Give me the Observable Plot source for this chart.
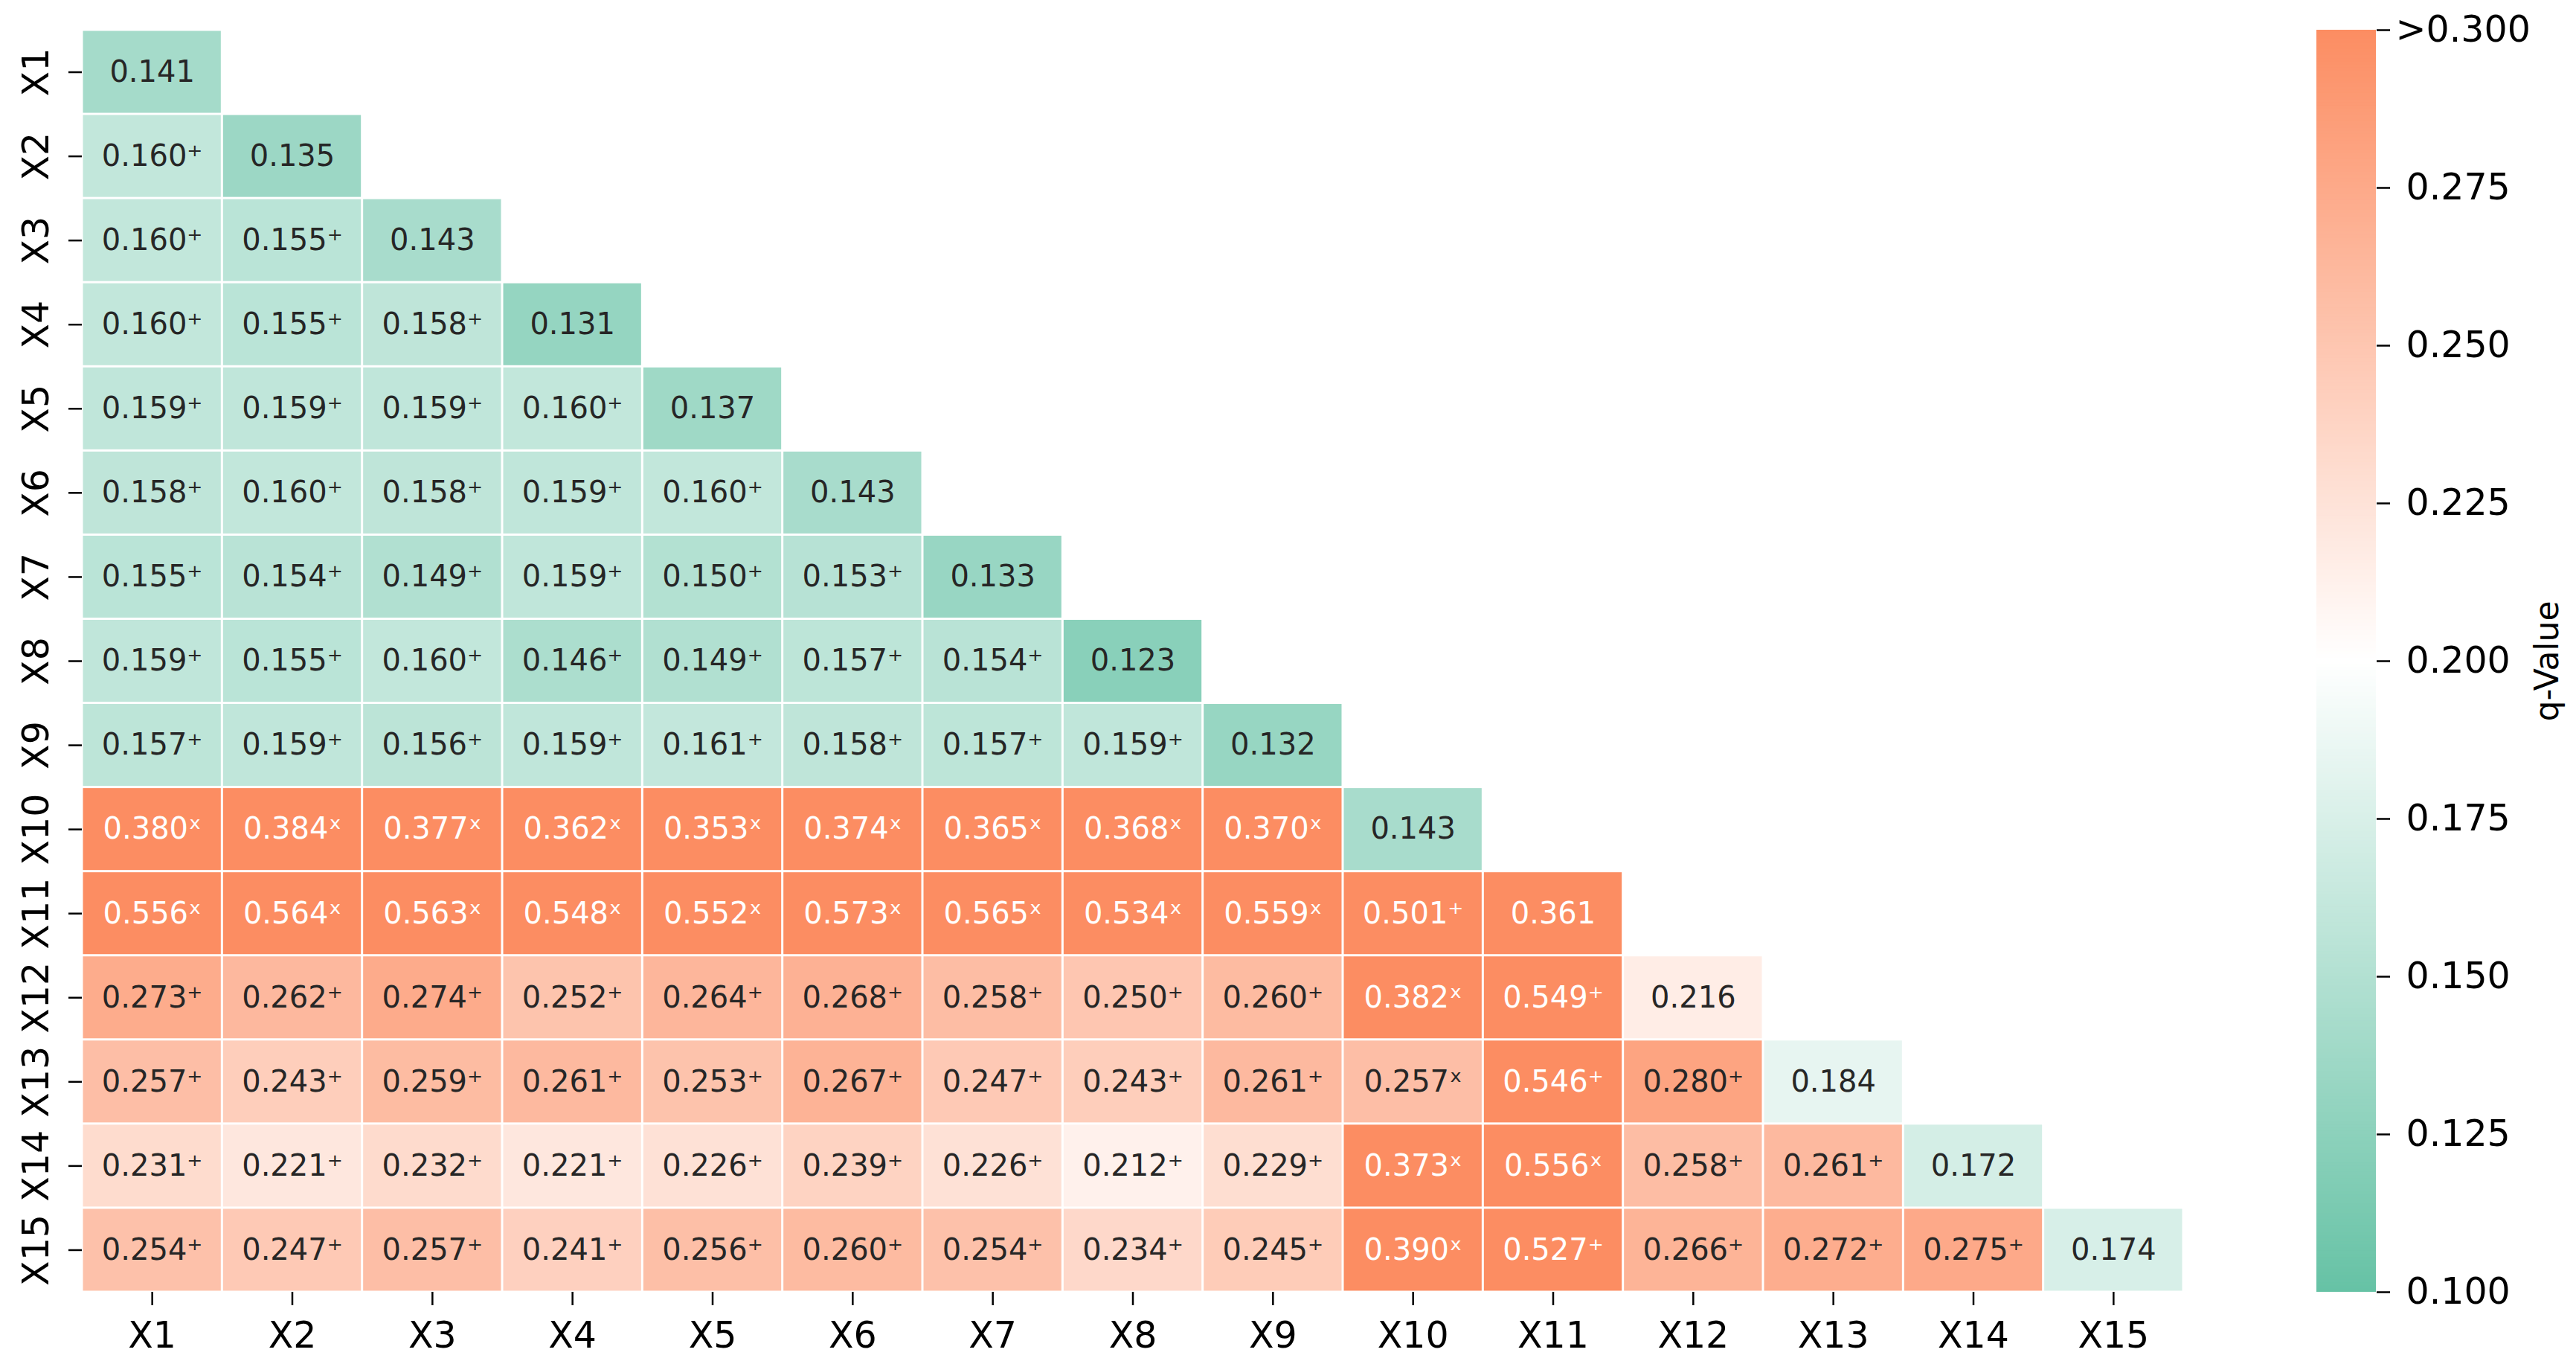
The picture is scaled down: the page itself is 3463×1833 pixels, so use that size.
<!DOCTYPE html>
<html>
<head>
<meta charset="utf-8">
<script src="https://cdn.jsdelivr.net/npm/d3@7"></script>
<script src="https://cdn.jsdelivr.net/npm/@observablehq/plot@0.6"></script>
<style>
  html, body { margin: 0; padding: 0; background: #ffffff; }
  #chart { position: relative; width: 3463px; height: 1833px; font-family: "DejaVu Sans", sans-serif; }
  #main { position: absolute; left: 0; top: 0; }
  #bar { position: absolute; left: 3000px; top: 0; }
</style>
</head>
<body>
<div id="chart"><div id="main"></div><div id="bar"></div></div>
<script>
// Variables (rows and columns)
const variables = ["X1","X2","X3","X4","X5","X6","X7","X8","X9","X10","X11","X12","X13","X14","X15"];

// Lower-triangular q-values, row by row (column X1 .. diagonal)
const qValues = [
  [0.141],
  [0.160, 0.135],
  [0.160, 0.155, 0.143],
  [0.160, 0.155, 0.158, 0.131],
  [0.159, 0.159, 0.159, 0.160, 0.137],
  [0.158, 0.160, 0.158, 0.159, 0.160, 0.143],
  [0.155, 0.154, 0.149, 0.159, 0.150, 0.153, 0.133],
  [0.159, 0.155, 0.160, 0.146, 0.149, 0.157, 0.154, 0.123],
  [0.157, 0.159, 0.156, 0.159, 0.161, 0.158, 0.157, 0.159, 0.132],
  [0.380, 0.384, 0.377, 0.362, 0.353, 0.374, 0.365, 0.368, 0.370, 0.143],
  [0.556, 0.564, 0.563, 0.548, 0.552, 0.573, 0.565, 0.534, 0.559, 0.501, 0.361],
  [0.273, 0.262, 0.274, 0.252, 0.264, 0.268, 0.258, 0.250, 0.260, 0.382, 0.549, 0.216],
  [0.257, 0.243, 0.259, 0.261, 0.253, 0.267, 0.247, 0.243, 0.261, 0.257, 0.546, 0.280, 0.184],
  [0.231, 0.221, 0.232, 0.221, 0.226, 0.239, 0.226, 0.212, 0.229, 0.373, 0.556, 0.258, 0.261, 0.172],
  [0.254, 0.247, 0.257, 0.241, 0.256, 0.260, 0.254, 0.234, 0.245, 0.390, 0.527, 0.266, 0.272, 0.275, 0.174]
];

// Interaction-type markers for off-diagonal cells, row by row ("+" or "x")
const markers = [
  "",
  "+",
  "++",
  "+++",
  "++++",
  "+++++",
  "++++++",
  "+++++++",
  "++++++++",
  "xxxxxxxxx",
  "xxxxxxxxx+",
  "+++++++++x+",
  "+++++++++x++",
  "+++++++++xx++",
  "+++++++++x++++"
];

// Colour bar ticks and labels
const cbTicks = [0.100, 0.125, 0.150, 0.175, 0.200, 0.225, 0.250, 0.275];
const cbLabels = ["0.100", "0.125", "0.150", "0.175", "0.200", "0.225", "0.250", "0.275"];
const cbTopTick = [0.300];
const cbTopLabel = ">0.300";
const legendTitle = "q-Value";

const supers = {"+": "\u207A", "x": "\u02E3"};

const cells = [];
qValues.forEach((row, i) => {
  row.forEach((q, j) => {
    const m = markers[i][j] || "";
    cells.push({
      row: variables[i],
      col: variables[j],
      q,
      label: q.toFixed(3) + (m ? supers[m] : "")
    });
  });
});

const colorScale = {
  type: "linear",
  domain: [0.1, 0.2, 0.3],
  range: ["#66c2a5", "#ffffff", "#fc8d62"],
  clamp: true,
  interpolate: "rgb"
};

const main = Plot.plot({
  width: 3000,
  height: 1833,
  marginLeft: 110,
  marginRight: 65,
  marginTop: 40,
  marginBottom: 97,
  style: { fontFamily: "DejaVu Sans", background: "#ffffff", color: "#000000" },
  x: { domain: variables, padding: 0, round: false, label: null },
  y: { domain: variables, padding: 0, round: false, label: null },
  color: colorScale,
  marks: [
    Plot.cell(cells, { x: "col", y: "row", fill: "q", inset: 1.5 }),
    Plot.text(cells, {
      x: "col", y: "row", text: "label",
      fontSize: 40,
      fill: d => d.q > 0.3 ? "#ffffff" : "#262626"
    }),
    Plot.axisX({ anchor: "bottom", label: null, tickSize: 18, tickPadding: 22, fontSize: 49, strokeWidth: 2.5, fill: "#000" }),
    // y tick marks
    Plot.axisY({ anchor: "left", label: null, tickSize: 18, tickFormat: () => "", strokeWidth: 2.5 }),
    // y tick labels, rotated
    Plot.axisY({ anchor: "left", label: null, tickSize: 0, tickPadding: 46, fontSize: 49,
                 tickRotate: -90, textAnchor: "middle", lineAnchor: "bottom", fill: "#000" })
  ]
});
document.getElementById("main").appendChild(main);

// Colour bar
const steps = d3.range(0.1, 0.3, 0.0005);
const bar = Plot.plot({
  width: 463,
  height: 1833,
  marginLeft: 114,
  marginRight: 269,
  marginTop: 40,
  marginBottom: 97,
  style: { fontFamily: "DejaVu Sans", background: "#ffffff", color: "#000000" },
  x: { domain: [0, 1], axis: null },
  y: { domain: [0.1, 0.3], label: null },
  color: colorScale,
  marks: [
    Plot.rect(steps, { x1: 0, x2: 1, y1: d => d, y2: d => Math.min(0.3, d + 0.0008), fill: d => d + 0.00025 }),
    Plot.axisY({ anchor: "right", label: null, ticks: cbTicks,
                 tickFormat: d => cbLabels[cbTicks.findIndex(t => Math.abs(t - d) < 1e-9)],
                 tickSize: 18, tickPadding: 22, fontSize: 49, strokeWidth: 2.5, fill: "#000" }),
    Plot.axisY({ anchor: "right", label: null, ticks: cbTopTick,
                 tickFormat: () => cbTopLabel,
                 tickSize: 18, tickPadding: 8, fontSize: 49, strokeWidth: 2.5, fill: "#000" }),
    Plot.text([legendTitle], { frameAnchor: "right", text: d => d, rotate: -90, dx: 230,
                               fontSize: 44, fill: "#000", textAnchor: "middle" })
  ]
});
document.getElementById("bar").appendChild(bar);
</script>
</body>
</html>
